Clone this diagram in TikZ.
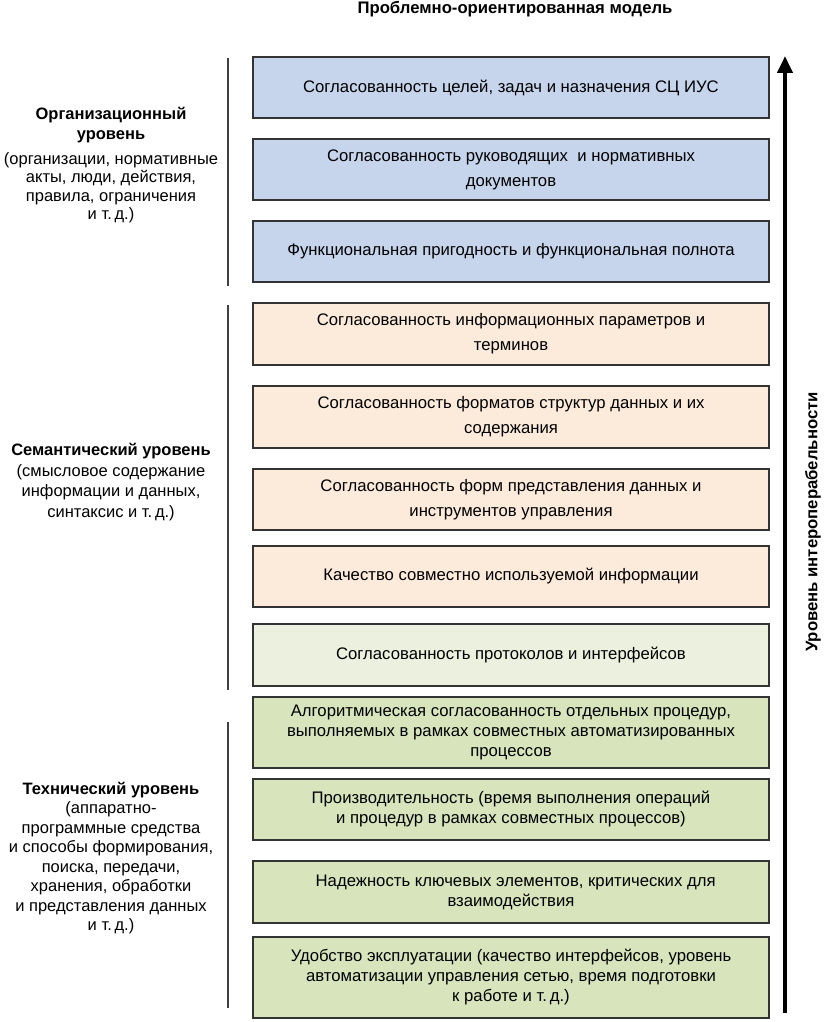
\documentclass[tikz,border=0pt]{standalone}
\usepackage{fontspec}
\setmainfont{Liberation Sans}
\usetikzlibrary{arrows.meta}
\definecolor{orgblue}{HTML}{C6D5EC}
\definecolor{sempeach}{HTML}{FCEBDB}
\definecolor{protgreen}{HTML}{EBF1DE}
\definecolor{techgreen}{HTML}{D7E4BC}
\tikzset{
  blk/.style={draw=black!80, line width=1.1pt, minimum width=516pt, inner sep=0pt, align=center, font=\fontsize{16.7}{25}\selectfont},
  tblk/.style={blk, font=\fontsize{16.7}{20}\selectfont},
  lvl/.style={align=center, font=\fontsize{16.5}{18.5}\selectfont},
  sep/.style={draw=black!75, line width=1.3pt}
}
\begin{document}
\begin{tikzpicture}[x=1pt,y=-1pt]
\useasboundingbox (0,0) rectangle (823,1022);

\node[font=\fontsize{16.7}{18}\selectfont\bfseries] (title) at (515,9) {Проблемно-ориентированная модель};

\node[blk, fill=orgblue, minimum height=61pt] (b1) at (511,87.5) {Согласованность целей, задач и назначения СЦ ИУС};
\node[blk, fill=orgblue, minimum height=61pt] (b2) at (511,169.5) {Согласованность руководящих \ и нормативных\\документов};
\node[blk, fill=orgblue, minimum height=61pt] (b3) at (511,251.5) {Функциональная пригодность и функциональная полнота};

\node[blk, fill=sempeach, minimum height=62pt] (b4) at (511,334) {Согласованность информационных параметров и\\терминов};
\node[blk, fill=sempeach, minimum height=62pt] (b5) at (511,417) {Согласованность форматов структур данных и их\\содержания};
\node[blk, fill=sempeach, minimum height=61pt] (b6) at (511,499.5) {Согласованность форм представления данных и\\инструментов управления};
\node[blk, fill=sempeach, minimum height=61pt] (b7) at (511,576.5) {Качество совместно используемой информации};

\node[blk, fill=protgreen, minimum height=62pt] (b8) at (511,655) {Согласованность протоколов и интерфейсов};

\node[tblk, fill=techgreen, minimum height=71pt] (b9) at (511,732.5) {Алгоритмическая согласованность отдельных процедур,\\выполняемых в рамках совместных автоматизированных\\процессов};
\node[tblk, fill=techgreen, minimum height=61pt] (b10) at (511,809.5) {Производительность (время выполнения операций\\и процедур в рамках совместных процессов)};
\node[tblk, fill=techgreen, minimum height=62pt] (b11) at (511,892) {\ \ Надежность ключевых элементов, критических для\\взаимодействия};
\node[tblk, fill=techgreen, minimum height=81pt] (b12) at (511,977.5) {Удобство эксплуатации (качество интерфейсов, уровень\\автоматизации управления сетью, время подготовки\\к работе и т.\,д.)};

\node[lvl] (org) at (111,165) {\textbf{Организационный}\\[2pt]\textbf{уровень}\\[6pt](организации, нормативные\\акты, люди, действия,\\правила, ограничения\\и т.\,д.)};
\node[lvl, font=\fontsize{16.5}{20.5}\selectfont] (sem) at (111,482) {\textbf{Семантический уровень}\\(смысловое содержание\\информации и данных,\\синтаксис и т.\,д.)};
\node[lvl, font=\fontsize{16.5}{19.5}\selectfont] (tech) at (111,858) {\textbf{Технический уровень}\\(аппаратно-\\программные средства\\и способы формирования,\\поиска, передачи,\\хранения, обработки\\и представления данных\\и т.\,д.)};

\coordinate (o1) at (228,58);
\coordinate (o2) at (228,286);
\coordinate (s1) at (228,305);
\coordinate (s2) at (228,690);
\coordinate (t1) at (228,722);
\coordinate (t2) at (228,1008);
\draw[sep] (o1) -- (o2);
\draw[sep] (s1) -- (s2);
\draw[sep] (t1) -- (t2);

\coordinate (abot) at (785,1013);
\coordinate (atop) at (785,56);
\draw[line width=4pt, -{Triangle[width=15pt,length=17pt]}] (abot) -- (atop);
\node[rotate=90, font=\fontsize{16.7}{18}\selectfont\bfseries] (axis) at (813,522) {Уровень интероперабельности};
\end{tikzpicture}
\end{document}
